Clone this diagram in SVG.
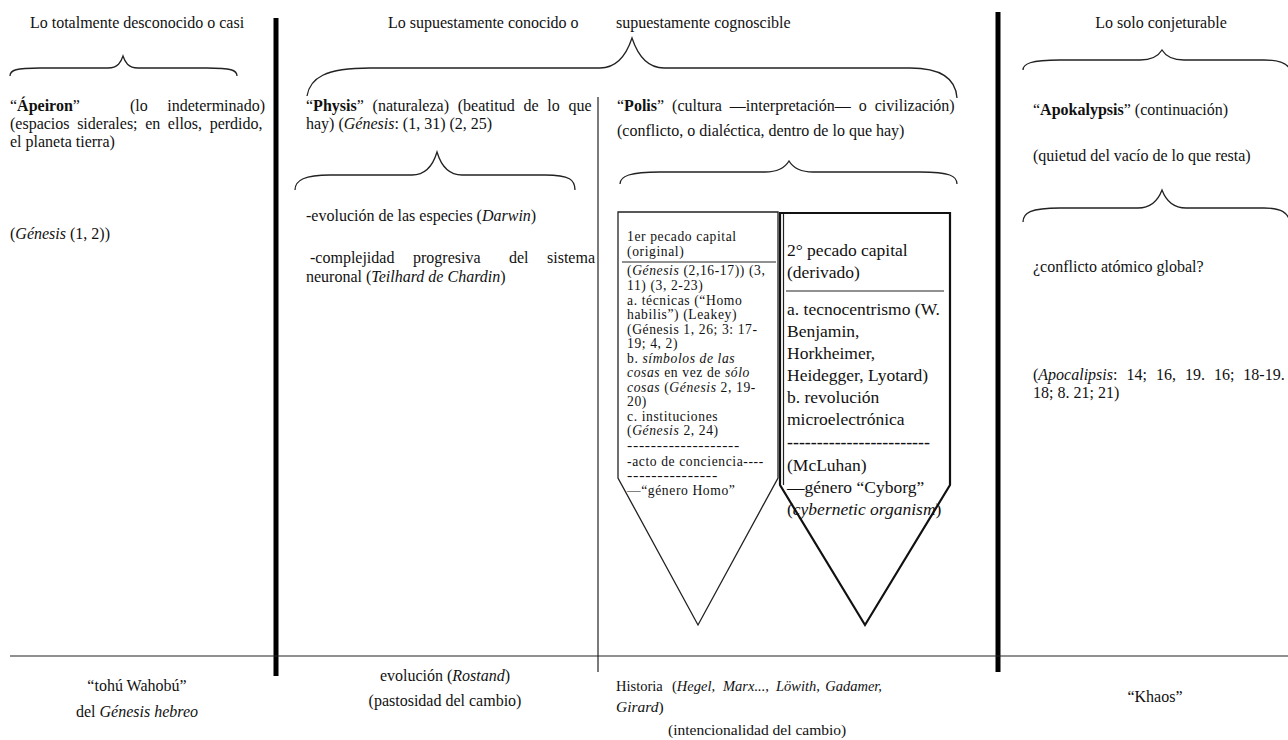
<svg xmlns="http://www.w3.org/2000/svg" width="1288" height="740" viewBox="0 0 1288 740">
<style>
text{font-family:"Liberation Serif","Times New Roman",serif;font-size:16px;fill:#111}
.b{font-weight:bold}
.i{font-style:italic}
.s{font-size:13.6px;letter-spacing:0.6px}
.m{font-size:17.5px}
.f{font-size:15.5px}
.g{font-size:14.5px}
.brace{fill:none;stroke:#222;stroke-width:1.3}
.thick{stroke:#000;stroke-width:5}
.thin{stroke:#222;stroke-width:1.2}
.box{fill:#fff;stroke:#222;stroke-width:1.3}
.box2{fill:#fff;stroke:#111;stroke-width:2.2}
</style>
<rect width="1288" height="740" fill="#fff"/>
<g id="connectors">
<line class="thick" x1="276" y1="18" x2="276" y2="676"/>
<line class="thick" x1="998" y1="12" x2="998" y2="672"/>
<line class="thin" x1="598" y1="97" x2="598" y2="672"/>
<line class="thin" x1="10" y1="656" x2="1288" y2="656"/>
<path class="brace" d="M10,76 C10,70 16,68 40,68 L108,68 C118,68 121,62 123,56 C125,62 128,68 138,68 L207,68 C231,68 237,70 237,76"/>
<path class="brace" d="M307,96 C310,78 325,68 370,68 L600,68 C620,68 628,50 632,38 C636,50 644,68 664,68 L910,68 C945,68 956,82 957,98"/>
<path class="brace" d="M295,190 C295,180 305,175 330,175 L412,175 C428,175 434,162 437,152 C440,162 446,175 462,175 L545,175 C570,175 575,180 575,190"/>
<path class="brace" d="M620,184 C620,176 630,172 660,172 L765,172 C780,172 786,166 789,161 C792,166 798,172 813,172 L920,172 C950,172 957,176 957,184"/>
<path class="brace" d="M1023,70 C1023,64 1030,60 1060,60 L1140,60 C1154,60 1159,55 1162,50 C1165,55 1170,60 1184,60 L1264,60 C1282,60 1288,64 1290,70"/>
<path class="brace" d="M1023,222 C1023,213 1030,208 1060,208 L1138,208 C1153,208 1159,198 1162,190 C1165,198 1171,208 1186,208 L1264,208 C1282,208 1288,213 1290,222"/>
</g>
<g id="header-left"><text x="137" y="28" text-anchor="middle">Lo totalmente desconocido o casi</text></g>
<g id="header-mid"><text x="388" y="28">Lo supuestamente conocido o</text><text x="616" y="28">supuestamente cognoscible</text></g>
<g id="header-right"><text x="1161" y="28" text-anchor="middle">Lo solo conjeturable</text></g>
<g id="apeiron">
<text x="10" y="111">“<tspan class="b">Ápeiron</tspan>”</text>
<text x="130" y="111">(lo</text>
<text x="265" y="111" text-anchor="end">indeterminado)</text>
<text x="10" y="129" word-spacing="3.6">(espacios siderales; en ellos, perdido,</text>
<text x="10" y="147">el planeta tierra)</text>
<text x="10" y="239">(<tspan class="i">Génesis</tspan> (1, 2))</text>
</g>
<g id="physis">
<text x="306" y="111" word-spacing="4.8">“<tspan class="b">Physis</tspan>” (naturaleza) (beatitud de lo que</text>
<text x="306" y="129">hay) (<tspan class="i">Génesis</tspan>: (1, 31) (2, 25)</text>
<text x="306" y="221">-evolución de las especies (<tspan class="i">Darwin</tspan>)</text>
<text x="310" y="263">-complejidad</text>
<text x="413" y="263">progresiva</text>
<text x="509" y="263">del</text>
<text x="595" y="263" text-anchor="end">sistema</text>
<text x="306" y="282">neuronal (<tspan class="i">Teilhard de Chardin</tspan>)</text>
</g>
<g id="polis">
<text x="617" y="111" word-spacing="4">“<tspan class="b">Polis</tspan>” (cultura —interpretación— o civilización)</text>
<text x="617" y="136">(conflicto, o dialéctica, dentro de lo que hay)</text>
</g>
<g id="pecado1">
<path class="box" d="M618,212 L778,212 L778,478 L698,625 L618,478 Z"/>
<line class="thin" x1="622" y1="262" x2="776" y2="262"/>
<text x="627" y="241" class="s">1er pecado capital</text>
<text x="627" y="256" class="s">(original)</text>
<text x="627" y="275" class="s">(<tspan class="i">Génesis</tspan> (2,16-17)) (3,</text>
<text x="627" y="290" class="s">11) (3, 2-23)</text>
<text x="627" y="304.5" class="s">a. técnicas (“Homo</text>
<text x="627" y="319" class="s">habilis”) (Leakey)</text>
<text x="627" y="333.5" class="s">(Génesis 1, 26; 3: 17-</text>
<text x="627" y="348" class="s">19; 4, 2)</text>
<text x="627" y="362.5" class="s">b. <tspan class="i">símbolos de las</tspan></text>
<text x="627" y="377" class="s"><tspan class="i">cosas</tspan> en vez de <tspan class="i">sólo</tspan></text>
<text x="627" y="391.5" class="s"><tspan class="i">cosas</tspan> (<tspan class="i">Génesis</tspan> 2, 19-</text>
<text x="627" y="406" class="s">20)</text>
<text x="627" y="420.5" class="s">c. instituciones</text>
<text x="627" y="435" class="s">(<tspan class="i">Génesis</tspan> 2, 24)</text>
<text x="627" y="450" class="s" textLength="113" lengthAdjust="spacingAndGlyphs">-------------------</text>
<text x="627" y="466" class="s">-acto de conciencia----</text>
<text x="627" y="480" class="s" textLength="91" lengthAdjust="spacingAndGlyphs">---------------</text>
<text x="627" y="495" class="s">—“género Homo”</text>
</g>
<g id="pecado2">
<path class="box2" d="M780,213 L950,213 L950,485 L865,625 L780,485 Z"/>
<line class="thin" x1="783.5" y1="214" x2="783.5" y2="485"/>
<line class="thin" x1="786" y1="291" x2="944" y2="291"/>
<text x="787" y="256" class="m">2° pecado capital</text>
<text x="787" y="278" class="m">(derivado)</text>
<text x="787" y="315" class="m">a. tecnocentrismo (W.</text>
<text x="787" y="337" class="m">Benjamin,</text>
<text x="787" y="359" class="m">Horkheimer,</text>
<text x="787" y="381" class="m">Heidegger, Lyotard)</text>
<text x="787" y="403" class="m">b. revolución</text>
<text x="787" y="425" class="m">microelectrónica</text>
<text x="787" y="448" class="m b" textLength="143" lengthAdjust="spacingAndGlyphs">------------------------</text>
<text x="787" y="471" class="m">(McLuhan)</text>
<text x="787" y="493" class="m">—género “Cyborg”</text>
<text x="787" y="515" class="m">(<tspan class="i">cybernetic organism</tspan>)</text>
</g>
<g id="apokalypsis">
<text x="1033" y="115">“<tspan class="b">Apokalypsis</tspan>” (continuación)</text>
<text x="1033" y="161">(quietud del vacío de lo que resta)</text>
<text x="1033" y="272">¿conflicto atómico global?</text>
<text x="1033" y="380" word-spacing="5">(<tspan class="i">Apocalipsis</tspan>: 14; 16, 19. 16; 18-19.</text>
<text x="1033" y="398">18; 8. 21; 21)</text>
</g>
<g id="bottom-tohu">
<text x="137" y="691" text-anchor="middle">“tohú Wahobú”</text>
<text x="137" y="717" text-anchor="middle">del <tspan class="i">Génesis hebreo</tspan></text>
</g>
<g id="bottom-evolucion">
<text x="445" y="681" text-anchor="middle">evolución (<tspan class="i">Rostand</tspan>)</text>
<text x="445" y="706" text-anchor="middle">(pastosidad del cambio)</text>
</g>
<g id="bottom-historia">
<text x="616" y="691" class="g">Historia</text>
<text x="672" y="691" class="g">(<tspan class="i">Hegel,</tspan></text>
<text x="723" y="691" class="g i">Marx...,</text>
<text x="776" y="691" class="g i">Löwith,</text>
<text x="882" y="691" class="g i" text-anchor="end">Gadamer,</text>
<text x="616" y="712" class="f"><tspan class="i">Girard</tspan>)</text>
<text x="668" y="735" class="f">(intencionalidad del cambio)</text>
</g>
<g id="bottom-khaos"><text x="1155" y="702" text-anchor="middle">“Khaos”</text></g>
</svg>
